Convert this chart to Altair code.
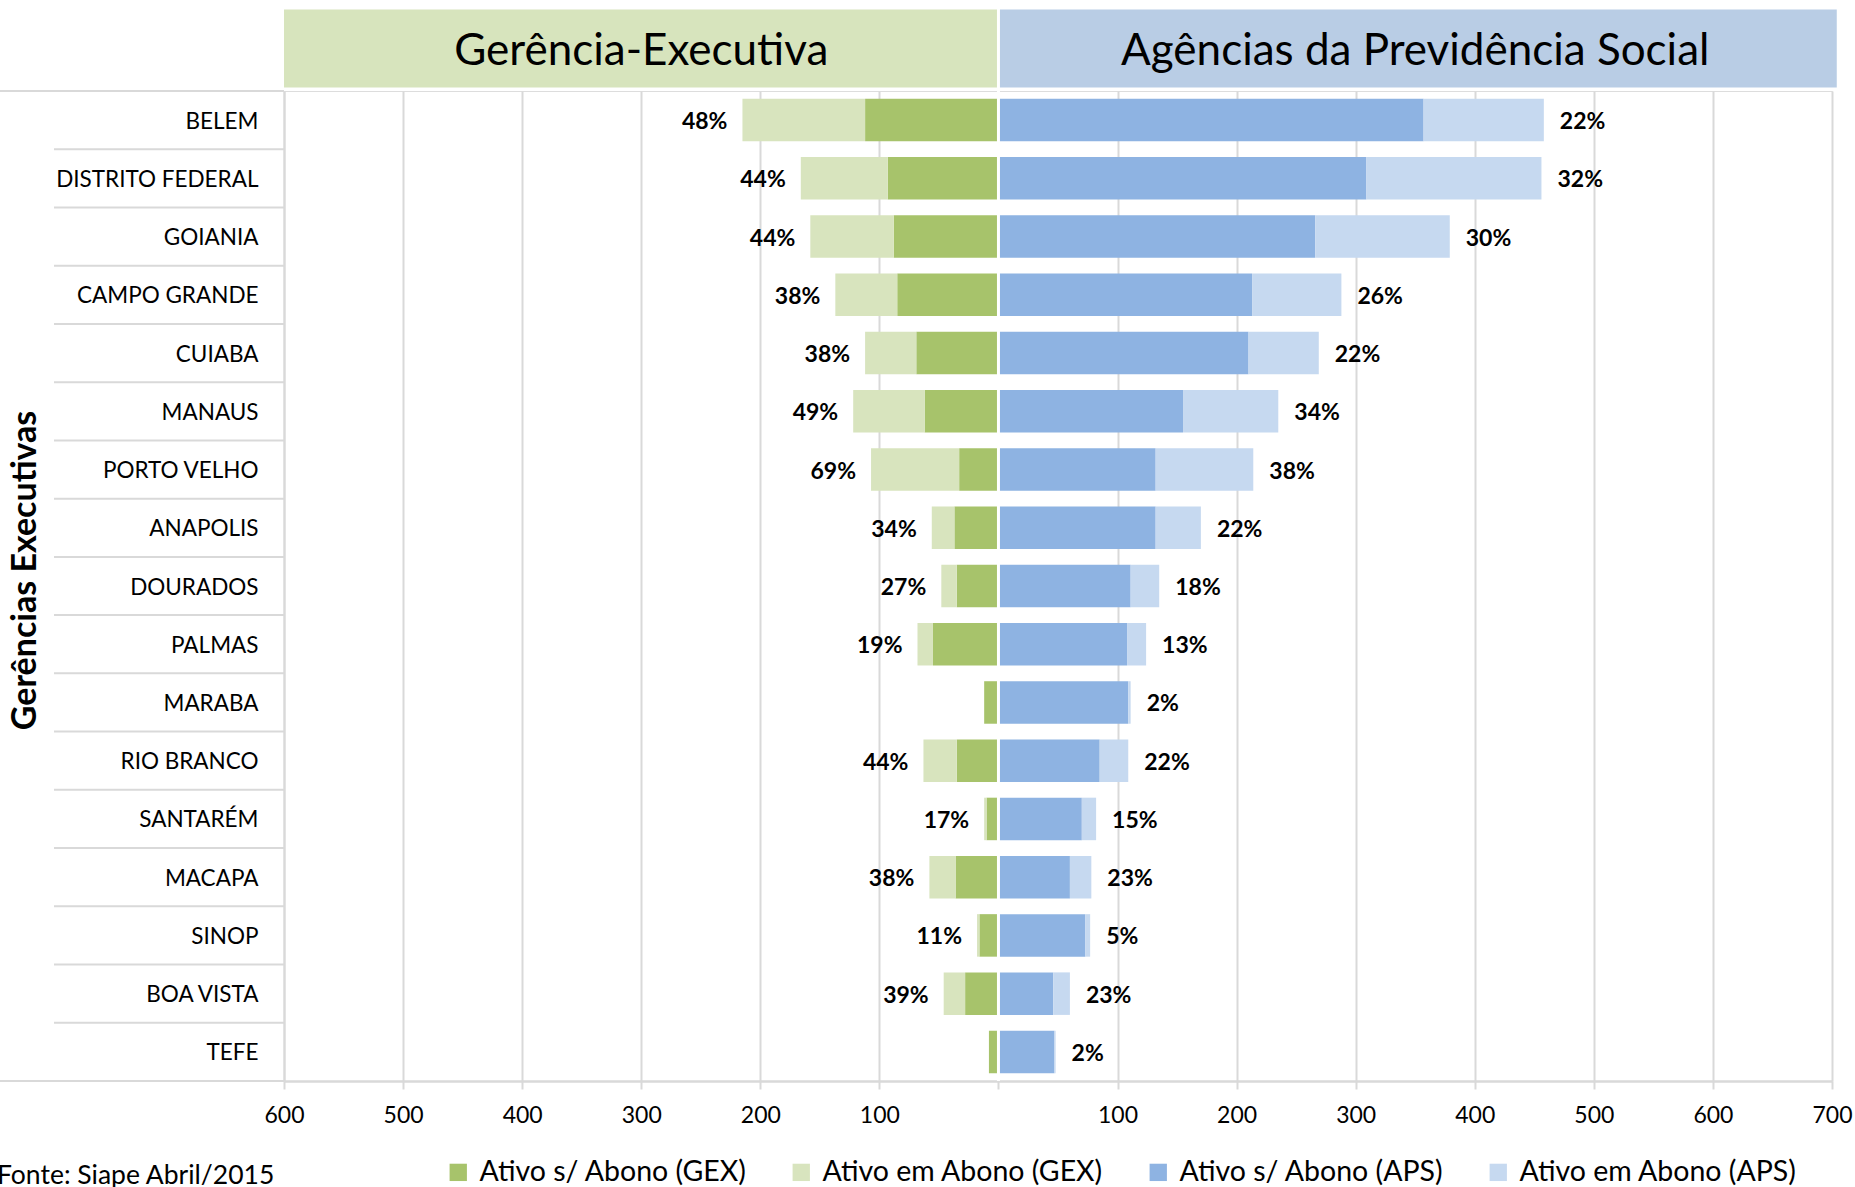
import altair as alt
import pandas as pd

# Gerências executivas, na ordem de exibição (de cima para baixo)
gerencias = [
    "BELEM", "DISTRITO FEDERAL", "GOIANIA", "CAMPO GRANDE", "CUIABA", "MANAUS",
    "PORTO VELHO", "ANAPOLIS", "DOURADOS", "PALMAS", "MARABA", "RIO BRANCO",
    "SANTARÉM", "MACAPA", "SINOP", "BOA VISTA", "TEFE",
]

# Servidores na Gerência-Executiva (GEX)
gex_sem_abono = [112, 93, 88, 85, 69, 62, 33, 37, 35, 55, 12, 35, 10, 36, 16, 28, 8]
gex_em_abono = [103, 73, 70, 52, 43, 60, 74, 19, 13, 13, 0, 28, 2, 22, 2, 18, 0]

# Servidores nas Agências da Previdência Social (APS)
aps_sem_abono = [357, 309, 266, 213, 210, 155, 132, 132, 111, 108, 109, 85, 70, 60, 73, 46, 47]
aps_em_abono = [101, 147, 113, 75, 59, 80, 82, 38, 24, 16, 2, 24, 12, 18, 4, 14, 1]

series = [
    "Ativo s/ Abono (GEX)", "Ativo em Abono (GEX)",
    "Ativo s/ Abono (APS)", "Ativo em Abono (APS)",
]
cores = ["#A7C36B", "#D8E4BE", "#8EB3E2", "#C6D9F0"]

x_ticks = [-600, -500, -400, -300, -200, -100, 0, 100, 200, 300, 400, 500, 600, 700]

FONTE = "Lato"
GRADE = "#D9D9D9"

# Segmentos empilhados: GEX cresce para a esquerda, APS para a direita
segmentos = []
rotulos_gex = []
rotulos_aps = []
for g, gs, ge, as_, ae in zip(gerencias, gex_sem_abono, gex_em_abono, aps_sem_abono, aps_em_abono):
    segmentos += [
        {"gerencia": g, "serie": series[0], "ini": 0, "fim": -gs},
        {"gerencia": g, "serie": series[1], "ini": -gs, "fim": -(gs + ge)},
        {"gerencia": g, "serie": series[2], "ini": 0, "fim": as_},
        {"gerencia": g, "serie": series[3], "ini": as_, "fim": as_ + ae},
    ]
    if ge > 0:
        rotulos_gex.append({"gerencia": g, "pos": -(gs + ge), "txt": f"{round(100 * ge / (gs + ge))}%"})
    if ae > 0:
        rotulos_aps.append({"gerencia": g, "pos": as_ + ae, "txt": f"{round(100 * ae / (as_ + ae))}%"})

seg = pd.DataFrame(segmentos)
lab_gex = pd.DataFrame(rotulos_gex)
lab_aps = pd.DataFrame(rotulos_aps)

W, H = 1548, 990
x_scale = alt.Scale(domain=[-600, 700], nice=False, zero=False)
y_scale = alt.Scale(domain=gerencias, paddingInner=0.27, paddingOuter=0.135)

y_enc = alt.Y(
    "gerencia:N",
    scale=y_scale,
    sort=gerencias,
    axis=alt.Axis(
        title="Gerências Executivas",
        titleFont=FONTE, titleFontSize=34, titleFontWeight="bold", titleColor="#000",
        titleAngle=270, titleX=-259, titleY=479, titleAlign="center", titleBaseline="middle",
        labelFont=FONTE, labelFontSize=22.5, labelColor="#000", labelPadding=26,
        labelLimit=400, labelOffset=1.5,
        ticks=False, domainColor=GRADE, domainWidth=2,
    ),
)

barras = alt.Chart(seg).mark_bar().encode(
    y=y_enc,
    x=alt.X(
        "ini:Q",
        scale=x_scale,
        axis=alt.Axis(
            values=x_ticks,
            labelExpr="datum.value == 0 ? '' : format(abs(datum.value), 'd')",
            title=None, grid=True, gridColor=GRADE, gridWidth=2,
            tickColor=GRADE, tickWidth=2, tickSize=8,
            domainColor=GRADE, domainWidth=2.5, labelFlush=False, labelOverlap=False,
            labelFont=FONTE, labelFontSize=23, labelColor="#000", labelPadding=15.5,
        ),
    ),
    x2="fim:Q",
    color=alt.Color(
        "serie:N",
        scale=alt.Scale(domain=series, range=cores),
        legend=alt.Legend(
            title=None, orient="none", legendX=160, legendY=1067,
            direction="horizontal", columns=4,
            symbolType="square", symbolSize=300, symbolStrokeWidth=0,
            labelFont=FONTE, labelFontSize=28.5, labelColor="#000",
            labelOffset=7, columnPadding=40, labelLimit=500,
        ),
    ),
)

txt_gex = alt.Chart(lab_gex).mark_text(
    align="right", baseline="middle", dx=-15, dy=2, font=FONTE, fontSize=23, fontWeight="bold", color="#000"
).encode(y=alt.Y("gerencia:N", sort=gerencias), x=alt.X("pos:Q"), text="txt:N")

txt_aps = alt.Chart(lab_aps).mark_text(
    align="left", baseline="middle", dx=16, dy=2, font=FONTE, fontSize=23, fontWeight="bold", color="#000"
).encode(y=alt.Y("gerencia:N", sort=gerencias), x=alt.X("pos:Q"), text="txt:N")

# Linhas separadoras da área de rótulos das categorias
sep_df = pd.DataFrame({"gerencia": gerencias[1:]})
separadores = alt.Chart(sep_df).mark_rule(color=GRADE, strokeWidth=2, yOffset=-7.86).encode(
    y=alt.Y("gerencia:N", sort=gerencias, bandPosition=0),
    x=alt.value(-230), x2=alt.value(0),
)
bordas = alt.Chart(pd.DataFrame({"y": [0, H]})).mark_rule(color=GRADE, strokeWidth=2).encode(
    y=alt.Y("y:Q", scale=None), x=alt.value(-284), x2=alt.value(0),
)

# Faixas de cabeçalho
cab_df = pd.DataFrame({
    "nome": ["Gerência-Executiva", "Agências da Previdência Social"],
    "ini": [-600, 0], "fim": [0, 704], "meio": [-300, 350],
})
cab_rect = alt.Chart(cab_df).mark_rect().encode(
    x=alt.X("ini:Q"), x2="fim:Q",
    y=alt.value(-81.5), y2=alt.value(-3.5),
    color=alt.Color("nome:N", scale=alt.Scale(
        domain=["Gerência-Executiva", "Agências da Previdência Social"],
        range=["#D7E4BD", "#B9CDE5"]), legend=None),
)
cab_txt = alt.Chart(cab_df).mark_text(
    baseline="middle", align="center", font=FONTE, fontSize=44, color="#000"
).encode(x=alt.X("meio:Q"), y=alt.value(-39.5), text="nome:N")

# Divisória branca no eixo zero
zero = alt.Chart(pd.DataFrame({"x": [0]})).mark_rule(color="white", strokeWidth=3).encode(
    x="x:Q", y=alt.value(-82), y2=alt.value(H),
)

fonte = alt.Chart(pd.DataFrame({"t": ["Fonte: Siape Abril/2015"]})).mark_text(
    align="left", baseline="alphabetic", font=FONTE, fontSize=26.5, color="#000", x=-287, y=1093
).encode(text="t:N")

chart = alt.layer(
    cab_rect, cab_txt, barras, zero, txt_gex, txt_aps, separadores, bordas, fonte
).resolve_scale(color="independent").properties(
    width=W, height=H,
    autosize=alt.AutoSizeParams(type="none"),
    padding={"left": 284, "top": 91, "right": 23, "bottom": 106},
).configure_view(stroke=None).configure(font=FONTE)

chart.save("out.html", embed_options={"renderer": "svg", "actions": False})
